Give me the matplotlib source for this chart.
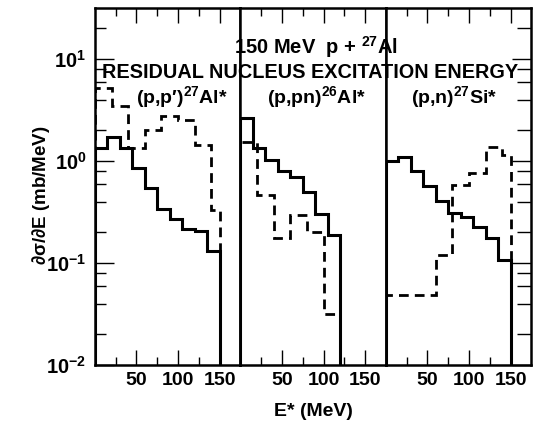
import matplotlib.pyplot as plt
import numpy as np
from matplotlib.ticker import LogLocator, FixedLocator, NullFormatter

plt.rcParams['font.family'] = ['Liberation Sans', 'DejaVu Sans']
plt.rcParams['font.weight'] = 'bold'
plt.rcParams['mathtext.fontset'] = 'custom'
plt.rcParams['mathtext.rm'] = 'Liberation Sans:bold'
plt.rcParams['mathtext.bf'] = 'Liberation Sans:bold'
plt.rcParams['mathtext.it'] = 'Liberation Sans:bold'

# bin edges (MeV) and d(sigma)/dE values (mb/MeV)
edges15 = [0, 15, 30, 45, 60, 75, 90, 105, 120, 135, 150]
edges15_short = [0, 15, 30, 45, 60, 75, 90, 105, 120]

pp_edges_dash = [0, 20, 40, 60, 80, 100, 120, 140, 150]
pp_solid = [1.35, 1.71, 1.35, 0.85, 0.55, 0.34, 0.27, 0.215, 0.205, 0.13]
pp_dash = [5.2, 3.5, 1.35, 2.0, 2.75, 2.55, 1.45, 0.33]

pn_edges_dash = [0, 20, 40, 60, 80, 100, 120]
pn_solid = [2.62, 1.33, 1.02, 0.80, 0.70, 0.50, 0.30, 0.188]
pn_dash = [1.55, 0.46, 0.175, 0.295, 0.20, 0.032]

n_edges_dash = [0, 60, 80, 100, 120, 140, 150]
n_solid = [1.0, 1.09, 0.80, 0.57, 0.41, 0.31, 0.284, 0.227, 0.175, 0.107]
n_dash = [0.0485, 0.12, 0.58, 0.77, 1.38, 1.15]

panel_labels = ["(p,p\u2032)$^{27}$Al*", r"(p,pn)$^{26}$Al*", r"(p,n)$^{27}$Si*"]
solid_sets = [(edges15, pp_solid), (edges15_short, pn_solid), (edges15, n_solid)]
dash_sets = [(pp_edges_dash, pp_dash), (pn_edges_dash, pn_dash), (n_edges_dash, n_dash)]
label_x = [0.342, 0.593, 0.852]

fig = plt.figure(figsize=(5.33, 4.24), dpi=100)
gs = fig.add_gridspec(1, 3, left=0.178, right=0.997, bottom=0.139, top=0.981, wspace=0)
axes = [fig.add_subplot(gs[0, i]) for i in range(3)]

for i, ax in enumerate(axes):
    ax.set_yscale('log')
    ax.set_ylim(1e-2, 10 ** 1.5)
    ax.set_xlim(0, 175)
    de, dv = dash_sets[i]
    ax.stairs(dv, de, baseline=1e-3, color='black', lw=2.0, linestyle=(0, (3.5, 2.2)))
    se, sv = solid_sets[i]
    ax.stairs(sv, se, baseline=1e-3, color='black', lw=2.2)
    for s in ax.spines.values():
        s.set_linewidth(1.8)
    ax.xaxis.set_major_locator(FixedLocator([50, 100, 150]))
    ax.xaxis.set_minor_locator(FixedLocator([25, 75, 125]))
    ax.tick_params(axis='x', which='major', direction='in', length=11, width=1.0,
                   top=True, labelsize=14, pad=5)
    ax.tick_params(axis='x', which='minor', direction='in', length=6, width=1.0, top=True)
    ax.yaxis.set_major_locator(LogLocator(base=10, numticks=10))
    ax.yaxis.set_minor_locator(LogLocator(base=10, subs=(2, 4, 6, 8), numticks=10))
    ax.yaxis.set_minor_formatter(NullFormatter())
    if i == 0:
        ax.tick_params(axis='y', which='major', direction='in', length=14, width=1.0,
                       labelsize=14.5, pad=6, right=False)
        ax.tick_params(axis='y', which='minor', direction='in', length=8, width=1.0, right=False)
    elif i == 2:
        ax.tick_params(axis='y', which='both', direction='in', left=False, labelleft=False,
                       right=True, width=1.0)
        ax.tick_params(axis='y', which='major', length=14)
        ax.tick_params(axis='y', which='minor', length=10)
    else:
        ax.tick_params(axis='y', which='both', left=False, right=False, labelleft=False)
    fig.text(label_x[i], 0.771, panel_labels[i], ha='center', va='center', fontsize=14)

fig.text(0.076, 0.54, r'$\partial\sigma/\partial$E (mb/MeV)', rotation=90,
         ha='center', va='center', fontsize=13.5)
fig.text(0.592, 0.889, r"150 MeV  p + $^{27}$Al", ha='center', va='center', fontsize=14.5)
fig.text(0.582, 0.828, "RESIDUAL NUCLEUS EXCITATION ENERGY", ha='center', va='center',
         fontsize=14.3)
fig.text(0.589, 0.030, "E* (MeV)", ha='center', va='center', fontsize=14)

fig.savefig('out.png', dpi=100)
